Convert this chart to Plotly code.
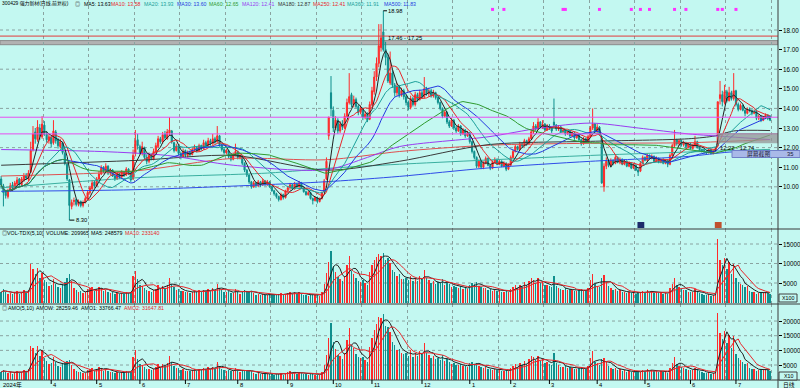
import plotly.graph_objects as go
import pandas as pd

# ---------------- data ----------------
opens = [
    10.40, 10.05, 9.75, 9.50, 9.85, 10.10, 9.90, 10.15, 10.40, 10.10, 10.35, 10.60, 10.40,
    10.75, 11.90, 12.80, 12.40, 13.00, 12.55, 13.15,
    12.70, 12.35, 12.50, 12.25, 12.80, 12.40, 12.05,
    12.25, 11.70, 11.15, 10.35, 9.00,
    9.25, 9.35, 9.10, 9.25, 9.05, 9.20,
    9.40, 9.70, 9.90, 10.25, 10.05, 10.40,
    10.65, 11.00, 10.80, 11.05, 10.70,
    10.85, 10.55, 10.40, 10.65, 10.50, 10.75, 10.60, 10.90, 10.70,
    10.40, 11.70, 12.40,
    12.05, 11.70, 12.00, 11.50, 11.30, 11.65,
    11.40, 11.80, 12.05, 12.45, 12.30, 12.70, 12.45, 12.75,
    12.85, 12.25, 11.85, 12.05, 11.70, 11.55, 11.85, 11.60,
    11.75, 11.65, 11.90, 12.00, 11.85, 12.10, 11.95,
    12.25, 12.10, 12.35, 12.20, 12.45, 12.30, 12.60,
    12.15, 11.90, 11.75, 11.85, 11.55, 11.40, 11.65, 11.80, 11.50,
    11.55, 11.20, 10.85, 10.60, 10.25, 10.00,
    10.20, 10.05, 10.25, 10.10, 10.30, 10.15,
    10.25, 10.00, 9.80, 9.65, 9.50, 9.35, 9.60,
    9.45, 9.80, 9.95, 10.10, 9.90, 10.15, 10.00,
    10.20, 9.95, 9.75, 9.60, 9.70, 9.40, 9.30, 9.45, 9.25,
    9.40, 9.75, 10.40,
    12.60, 14.80, 13.90, 13.00, 13.40, 12.85, 13.20, 13.00,
    13.60, 14.30, 14.70, 14.20,
    14.45, 14.10, 13.80, 14.00, 13.55, 13.70,
    13.45, 14.20, 14.85, 15.60, 16.30, 17.10,
    17.90, 17.00, 16.60,
    15.30, 15.80, 15.20, 14.80, 15.10, 14.70, 14.90,
    14.60, 14.30, 14.05, 14.50, 14.20, 14.70,
    14.45, 14.80, 14.60, 15.00, 14.75, 14.90, 14.65, 14.80,
    14.55, 14.30, 14.00, 13.60, 13.80, 13.30, 13.10,
    13.40, 13.00, 12.85, 13.10, 12.70, 12.90, 12.60,
    12.75, 12.30, 11.80, 11.50, 11.05, 11.30,
    11.00, 11.20, 11.45, 11.10, 10.95, 11.25, 11.40, 11.15, 11.30, 11.05, 11.20, 10.90,
    11.10, 11.50, 11.80, 12.05, 11.90, 12.20, 12.10, 12.35, 12.20,
    12.45, 12.80, 13.10, 12.95, 13.30, 13.05, 13.20, 12.90,
    13.10, 13.00, 13.30, 13.15, 12.95, 13.05, 12.80, 12.90, 12.70, 12.85, 12.60, 12.75, 12.50,
    12.65, 12.40, 12.20, 12.45, 12.30,
    12.55, 13.00, 13.20, 12.85, 13.05,
    12.50, 10.00, 11.05, 11.35,
    11.10, 11.35, 11.20, 11.50, 11.25, 11.40, 11.15, 11.30, 11.05, 11.20, 10.95, 11.10, 10.85,
    10.80, 11.20, 11.50, 11.35, 11.60, 11.45, 11.55, 11.30, 11.45, 11.25, 11.40, 11.20, 11.35,
    11.15, 11.60, 12.10, 12.40, 12.20, 12.35, 12.15,
    12.25, 12.05, 12.20, 11.95, 12.10, 12.30, 12.00, 11.90,
    11.85, 11.80, 11.75, 11.90, 11.70, 11.85,
    12.10, 14.50, 14.70, 14.30,
    14.85, 14.40, 14.80, 14.50, 14.90, 14.20, 13.95, 14.15, 13.90, 13.75,
    13.95, 13.90, 13.75, 13.85, 13.50, 13.60, 13.40, 13.55, 13.65, 13.60,
]
highs = [
    10.55, 10.15, 9.85, 9.90, 10.20, 10.25, 10.30, 10.50, 10.45, 10.50, 10.70, 10.70, 10.85,
    12.30, 13.10, 13.00, 13.40, 13.20, 13.60, 13.35,
    12.85, 12.70, 12.60, 13.40, 12.90, 12.50, 12.45,
    12.30, 11.80, 11.20, 10.40, 9.35,
    9.45, 9.40, 9.35, 9.30, 9.30, 9.50,
    9.80, 10.05, 10.35, 10.30, 10.50, 10.80,
    11.10, 11.05, 11.20, 11.10, 10.95,
    10.90, 10.65, 10.75, 10.70, 10.85, 10.80, 11.00, 10.95, 10.75,
    11.90, 12.90, 12.70,
    12.15, 12.30, 12.05, 11.65, 11.75, 11.70,
    11.95, 12.25, 12.60, 12.55, 12.80, 12.85, 12.95, 13.55,
    12.90, 12.30, 12.20, 12.10, 11.80, 11.95, 11.90, 11.85,
    11.85, 12.00, 12.15, 12.05, 12.20, 12.15, 12.40,
    12.35, 12.50, 12.45, 12.70, 12.55, 13.10, 12.65,
    12.20, 12.00, 11.95, 11.90, 11.65, 11.75, 12.20, 11.85, 11.70,
    11.60, 11.25, 10.90, 10.65, 10.30, 10.30,
    10.25, 10.35, 10.30, 10.40, 10.35, 10.35,
    10.30, 10.05, 9.85, 9.70, 9.55, 9.70, 9.65,
    9.85, 10.05, 10.20, 10.15, 10.25, 10.20, 10.30,
    10.25, 10.00, 9.80, 9.80, 9.75, 9.45, 9.50, 9.50, 9.45,
    9.75, 10.40, 11.50,
    13.56, 15.65, 14.10, 13.60, 13.50, 13.35, 13.40, 13.75,
    14.50, 15.80, 14.80, 14.65,
    14.55, 14.20, 14.15, 14.05, 13.85, 13.80,
    14.35, 15.10, 15.90, 16.60, 18.30, 18.30,
    18.98, 17.40, 16.80,
    16.90, 15.95, 15.30, 15.30, 15.20, 15.05, 15.00,
    14.70, 14.40, 14.65, 14.60, 14.85, 14.80,
    14.95, 14.90, 15.60, 15.10, 15.05, 15.00, 14.95, 14.85,
    14.60, 14.35, 14.05, 13.90, 13.85, 13.40, 13.50,
    13.45, 13.10, 13.20, 13.15, 13.00, 12.95, 12.85,
    12.80, 12.35, 11.85, 11.55, 11.40, 11.35,
    11.30, 11.55, 11.50, 11.15, 11.35, 11.50, 11.45, 11.40, 11.35, 11.30, 11.25, 11.20,
    11.60, 11.90, 12.15, 12.10, 12.30, 12.25, 12.45, 12.40, 12.55,
    12.95, 13.30, 13.20, 13.50, 13.35, 13.40, 13.25, 13.20,
    13.20, 13.10, 14.50, 13.20, 13.15, 13.10, 12.95, 12.95, 12.90, 12.90, 12.80, 12.80, 12.70,
    12.70, 12.45, 12.55, 12.50, 12.65,
    13.10, 14.00, 13.25, 13.20, 13.10,
    12.60, 11.20, 11.50, 11.40,
    11.45, 11.40, 11.60, 11.55, 11.50, 11.45, 11.40, 11.35, 11.30, 11.25, 11.20, 11.15, 10.95,
    11.30, 11.60, 11.55, 11.70, 11.65, 11.65, 11.60, 11.55, 11.50, 11.45, 11.45, 11.40, 11.40,
    11.70, 12.20, 12.90, 12.45, 12.45, 12.40, 12.35,
    12.30, 12.25, 12.25, 12.15, 12.60, 12.35, 12.05, 11.95,
    11.90, 11.85, 11.95, 11.95, 11.90, 12.00,
    14.34, 15.40, 14.90, 15.20,
    14.95, 15.10, 14.90, 15.80, 14.95, 14.30, 14.25, 14.20, 13.95, 14.05,
    14.05, 13.95, 13.95, 13.90, 13.70, 13.65, 13.60, 13.75, 13.70, 13.65,
]
lows = [
    9.90, 9.00, 9.40, 9.40, 9.75, 9.85, 9.85, 10.05, 10.05, 10.00, 10.25, 10.35, 10.30,
    10.70, 11.80, 12.20, 12.30, 12.40, 12.45, 12.60,
    12.25, 12.20, 12.00, 12.15, 12.20, 11.95, 11.95,
    11.65, 11.10, 10.30, 8.30, 8.85,
    9.05, 9.00, 9.00, 8.95, 8.95, 9.15,
    9.35, 9.60, 9.85, 9.95, 10.00, 10.35,
    10.60, 10.70, 10.75, 10.60, 10.60,
    10.50, 10.30, 10.35, 10.40, 10.45, 10.50, 10.55, 10.60, 10.25,
    10.35, 11.55, 11.90,
    11.65, 11.60, 11.40, 11.15, 11.20, 11.35,
    11.35, 11.70, 12.00, 12.20, 12.20, 12.40, 12.40, 12.60,
    12.20, 11.75, 11.80, 11.60, 11.40, 11.50, 11.50, 11.50,
    11.55, 11.60, 11.80, 11.75, 11.80, 11.85, 11.90,
    12.00, 12.05, 12.10, 12.15, 12.20, 12.25, 12.05,
    11.80, 11.65, 11.65, 11.45, 11.30, 11.35, 11.55, 11.40, 11.40,
    11.10, 10.75, 10.50, 10.15, 9.90, 9.95,
    9.95, 10.00, 10.00, 10.05, 10.05, 10.05,
    9.95, 9.75, 9.55, 9.40, 9.25, 9.30, 9.35,
    9.40, 9.70, 9.85, 9.85, 9.85, 9.95, 9.95,
    9.90, 9.70, 9.55, 9.55, 9.35, 9.10, 9.25, 9.15, 9.20,
    9.35, 9.70, 10.35,
    12.40, 13.60, 12.80, 12.90, 12.70, 12.75, 12.90, 12.95,
    13.55, 14.20, 14.05, 14.05,
    14.00, 13.65, 13.70, 13.40, 13.45, 13.30,
    13.40, 14.10, 14.70, 15.40, 16.10, 16.90,
    16.90, 16.20, 15.30,
    15.20, 15.05, 14.60, 14.65, 14.55, 14.60, 14.45,
    14.15, 13.90, 13.95, 14.10, 14.10, 14.35,
    14.40, 14.50, 14.50, 14.65, 14.60, 14.55, 14.55, 14.45,
    14.20, 13.90, 13.50, 13.55, 13.20, 13.00, 13.05,
    12.90, 12.75, 12.80, 12.60, 12.65, 12.50, 12.55,
    12.20, 11.70, 11.40, 10.95, 10.95, 10.90,
    10.90, 11.15, 11.05, 10.85, 10.90, 11.20, 11.10, 11.10, 11.00, 11.00, 10.80, 10.85,
    11.05, 11.45, 11.75, 11.85, 11.85, 12.00, 12.05, 12.10, 12.15,
    12.40, 12.70, 12.85, 12.90, 13.00, 12.95, 12.85, 12.85,
    12.90, 12.75, 13.05, 12.85, 12.85, 12.75, 12.75, 12.60, 12.65, 12.55, 12.55, 12.40, 12.45,
    12.30, 12.10, 12.15, 12.20, 12.25,
    12.50, 12.90, 12.75, 12.75, 12.60,
    10.15, 9.75, 10.90, 11.00,
    11.05, 11.10, 11.15, 11.20, 11.15, 11.10, 11.10, 11.00, 11.00, 10.90, 10.90, 10.80, 10.55,
    10.75, 11.15, 11.30, 11.30, 11.40, 11.40, 11.25, 11.25, 11.20, 11.20, 11.15, 11.15, 11.00,
    11.10, 11.55, 12.00, 12.10, 12.10, 12.05, 12.05,
    11.95, 11.95, 11.90, 11.90, 12.00, 11.95, 11.80, 11.75,
    11.70, 11.65, 11.70, 11.65, 11.65, 11.80,
    12.00, 14.20, 14.10, 14.20,
    14.30, 14.35, 14.40, 14.40, 14.10, 13.85, 13.90, 13.85, 13.60, 13.70,
    13.80, 13.65, 13.70, 13.40, 13.40, 13.30, 13.35, 13.45, 13.40, 13.35,
]
closes = [
    10.10, 9.70, 9.55, 9.80, 10.05, 9.95, 10.20, 10.35, 10.15, 10.40, 10.55, 10.45, 10.70,
    11.85, 12.70, 12.45, 13.05, 12.60, 13.20, 12.75,
    12.40, 12.55, 12.20, 12.85, 12.35, 12.10, 12.30,
    11.75, 11.20, 10.40, 9.05, 9.20,
    9.30, 9.10, 9.25, 9.05, 9.20, 9.40,
    9.70, 9.95, 10.20, 10.05, 10.40, 10.65,
    10.95, 10.80, 11.05, 10.70, 10.85,
    10.55, 10.40, 10.65, 10.50, 10.75, 10.60, 10.90, 10.70, 10.35,
    11.60, 12.35, 12.10,
    11.75, 12.05, 11.50, 11.30, 11.60, 11.45,
    11.80, 12.10, 12.45, 12.30, 12.65, 12.50, 12.80, 12.90,
    12.30, 11.85, 12.05, 11.70, 11.55, 11.80, 11.60, 11.75,
    11.65, 11.90, 12.00, 11.85, 12.10, 11.95, 12.25,
    12.10, 12.35, 12.20, 12.45, 12.30, 12.60, 12.15,
    11.90, 11.75, 11.85, 11.55, 11.40, 11.65, 11.80, 11.50, 11.60,
    11.20, 10.85, 10.60, 10.25, 10.00, 10.20,
    10.05, 10.25, 10.10, 10.30, 10.15, 10.25,
    10.00, 9.80, 9.65, 9.50, 9.35, 9.60, 9.45,
    9.80, 9.95, 10.10, 9.90, 10.15, 10.00, 10.20,
    9.95, 9.75, 9.60, 9.70, 9.40, 9.30, 9.45, 9.25, 9.40,
    9.70, 10.30, 11.30,
    13.56, 14.00, 13.00, 13.40, 12.85, 13.20, 13.05, 13.60,
    14.30, 14.60, 14.20, 14.45,
    14.10, 13.80, 14.00, 13.55, 13.70, 13.40,
    14.20, 14.90, 15.60, 16.30, 17.20, 17.60,
    17.00, 16.60, 15.40,
    15.80, 15.20, 14.80, 15.10, 14.70, 14.90, 14.60,
    14.30, 14.05, 14.50, 14.20, 14.70, 14.45,
    14.80, 14.60, 15.00, 14.75, 14.90, 14.65, 14.80, 14.55,
    14.30, 14.00, 13.60, 13.80, 13.30, 13.10, 13.40,
    13.00, 12.85, 13.10, 12.70, 12.90, 12.60, 12.75,
    12.30, 11.80, 11.50, 11.05, 11.30, 11.00,
    11.20, 11.45, 11.10, 10.95, 11.25, 11.40, 11.15, 11.30, 11.05, 11.20, 10.90, 11.10,
    11.50, 11.80, 12.05, 11.90, 12.20, 12.10, 12.35, 12.20, 12.45,
    12.80, 13.10, 12.95, 13.30, 13.05, 13.20, 12.90, 13.10,
    13.00, 12.85, 13.15, 12.95, 13.05, 12.80, 12.90, 12.70, 12.85, 12.60, 12.75, 12.50, 12.65,
    12.40, 12.20, 12.45, 12.30, 12.55,
    13.00, 13.20, 12.85, 13.05, 12.70,
    10.20, 11.05, 11.30, 11.10,
    11.35, 11.20, 11.50, 11.25, 11.40, 11.15, 11.30, 11.05, 11.20, 10.95, 11.10, 10.85, 10.75,
    11.20, 11.50, 11.35, 11.60, 11.45, 11.55, 11.30, 11.45, 11.25, 11.40, 11.20, 11.35, 11.15,
    11.60, 12.10, 12.40, 12.20, 12.35, 12.15, 12.25,
    12.05, 12.20, 11.95, 12.10, 12.30, 12.00, 11.90, 11.85,
    11.80, 11.75, 11.90, 11.70, 11.85, 11.95,
    14.34, 14.70, 14.35, 14.85,
    14.40, 14.80, 14.50, 14.90, 14.20, 13.95, 14.15, 13.90, 13.75, 13.95,
    13.90, 13.75, 13.85, 13.50, 13.60, 13.40, 13.55, 13.65, 13.50, 13.40,
]
# volume in units of 100 (axis "X100")
volumes = [
    2600, 3400, 2800, 2300, 2500, 2100, 2700, 2900, 2200, 2600, 3100, 2400, 3300,
    9800, 8600, 7200, 8900, 6400, 7600, 5800,
    5200, 4300, 4600, 6100, 4800, 3900, 3600,
    4700, 5300, 6200, 7400, 5600,
    3800, 3100, 2700, 2900, 2400, 2600,
    3400, 3600, 3900, 3000, 3500, 4100,
    3800, 2900, 3300, 2700, 2500,
    2600, 2300, 2400, 2100, 2500, 2200, 2800, 2400, 2600,
    6800, 8200, 5900,
    4600, 4200, 3700, 3300, 3000, 2800,
    3200, 3500, 4400, 3600, 4200, 3800, 4500, 6300,
    4800, 3900, 3300, 3500, 2900, 3000, 2700, 2600,
    2500, 2800, 3000, 2600, 3100, 2700, 3300,
    3000, 3400, 2900, 3600, 3100, 4800, 3800,
    3200, 2800, 2600, 2900, 2500, 2400, 3500, 2600, 2300,
    2900, 3100, 2700, 2800, 3000, 2400,
    2000, 2200, 1800, 2100, 1900, 2000,
    2100, 1900, 1800, 2000, 2200, 2400, 1800,
    2300, 2500, 2800, 2200, 2600, 2100, 2700,
    2300, 2000, 1900, 1700, 2100, 2300, 1800, 1900, 1700,
    2600, 4800, 7600,
    10500, 13200, 9400, 7800, 6600, 6100, 5500, 6800,
    9600, 11800, 8200, 7400,
    6300, 5600, 5200, 5800, 4900, 4600,
    7800, 9600, 10800, 11600, 12400, 12000,
    12600, 10900, 11300,
    10200, 8400, 7900, 6800, 7200, 6100, 5900,
    6400, 5800, 6900, 5400, 6300, 5600,
    6700, 5900, 8400, 6200, 5700, 5100, 5400, 4800,
    5200, 4900, 6100, 4600, 5300, 4700, 4100,
    4300, 3900, 3700, 4200, 3500, 3800, 3400,
    4600, 5100, 4800, 5300, 4200, 3900,
    3600, 3800, 3200, 3400, 3000, 3300, 2900, 3100, 2800, 2700, 3000, 2600,
    3400, 3900, 4400, 3700, 4600, 4100, 5200, 4500, 5600,
    6400, 5800, 5100, 6200, 4900, 5300, 4400, 4600,
    4200, 3900, 6800, 4300, 3800, 3500, 3300, 3600, 3200, 3400, 3100, 3000, 2900,
    3200, 3400, 2900, 3100, 3600,
    5800, 7200, 4700, 4300, 3900,
    6400, 7100, 5200, 4300,
    3600, 3200, 3500, 2900, 3100, 2700, 2800, 2500, 2600, 2400, 2500, 2300, 2800,
    2400, 2900, 2600, 3100, 2700, 2900, 2500, 2700, 2400, 2600, 2300, 2500, 2200,
    3600, 4800, 6200, 4400, 3900, 3500, 3300,
    3100, 2800, 2700, 2600, 3400, 2900, 2400, 2200,
    2000, 1800, 2100, 1700, 1900, 2300,
    16200, 10800, 9700, 11300,
    8600, 10400, 7400, 9900, 6200, 5300, 4800, 4400, 3900, 4200,
    2900, 2600, 2700, 2300, 2500, 2700, 2500, 2800, 2400, 2100,
]
# turnover in axis units (axis "X10")
amounts = [
    2630, 3300, 2670, 2250, 2510, 2090, 2750, 3000, 2230, 2700, 3270, 2510, 3530,
    11610, 10920, 8960, 11610, 8060, 10030, 7400,
    6450, 5400, 5610, 7840, 5930, 4720, 4430,
    5520, 5940, 6450, 6700, 5150,
    3530, 2820, 2500, 2630, 2210, 2440,
    3300, 3580, 3980, 3020, 3640, 4370,
    4160, 3130, 3650, 2890, 2710,
    2740, 2390, 2560, 2210, 2690, 2330, 3050, 2570, 2690,
    7890, 10130, 7140,
    5410, 5060, 4260, 3730, 3480, 3210,
    3780, 4240, 5480, 4430, 5310, 4750, 5760, 8130,
    5900, 4620, 3980, 4100, 3350, 3540, 3130, 3060,
    2910, 3330, 3600, 3080, 3750, 3230, 4040,
    3630, 4200, 3540, 4480, 3810, 6050, 4620,
    3810, 3290, 3080, 3350, 2850, 2800, 4130, 2990, 2670,
    3250, 3360, 2860, 2870, 3000, 2450,
    2010, 2260, 1820, 2160, 1930, 2050,
    2100, 1860, 1740, 1900, 2060, 2300, 1700,
    2250, 2490, 2830, 2180, 2640, 2100, 2750,
    2290, 1950, 1820, 1650, 1970, 2140, 1700, 1760, 1600,
    2520, 4940, 8590,
    14240, 19250, 12690, 10450, 8480, 8050, 7180, 9250,
    13540, 17460, 11810, 10660,
    8880, 7730, 7280, 7890, 6710, 6160,
    11080, 14300, 16850, 18910, 21330, 21000,
    22430, 18310, 18080,
    16120, 12770, 11690, 10270, 10580, 9090, 8610,
    9150, 8150, 10010, 7670, 9260, 8090,
    9920, 8610, 12600, 9150, 8490, 7470, 7990, 6980,
    7440, 6860, 8300, 6350, 7050, 6160, 5490,
    5590, 5010, 4850, 5330, 4520, 4790, 4340,
    5660, 6020, 5520, 5860, 4750, 4290,
    4030, 4350, 3550, 3720, 3380, 3760, 3230, 3500, 3090, 3020, 3270, 2890,
    3910, 4600, 5300, 4400, 5610, 4960, 6420, 5490, 6970,
    8190, 7600, 6600, 8250, 6390, 7000, 5680, 6030,
    5460, 5010, 9180, 5570, 4960, 4480, 4260, 4570, 4110, 4280, 3940, 3750, 3670,
    3970, 4150, 3610, 3810, 4520,
    7540, 9720, 6040, 5610, 4950,
    7010, 7360, 5880, 4770,
    4090, 3590, 4030, 3260, 3530, 3010, 3160, 2760, 2910, 2630, 2780, 2500, 3010,
    2690, 3320, 2950, 3580, 3090, 3350, 2830, 3090, 2700, 2960, 2580, 2840, 2450,
    4110, 5720, 7740, 5400, 4820, 4270, 4060,
    3760, 3390, 3250, 3140, 4150, 3500, 2880, 2620,
    2360, 2120, 2490, 1990, 2240, 2730,
    22600, 15930, 14020, 16660,
    12470, 15290, 10800, 14850, 8860, 7420, 6790, 6120, 5380, 5840,
    3970, 3570, 3740, 3110, 3400, 3650, 3390, 3820, 3250, 2826,
]

# long moving averages read at a few bars
ma120_bars = [0, 44, 73, 102, 143, 161, 175, 214, 237, 259, 280, 302, 320, 338]
ma120_vals = [11.9, 11.8, 11.6, 11.1, 10.87, 11.5, 12.05, 12.55, 13.0, 13.25, 13.0, 12.7, 12.55, 12.41]
ma180_bars = [0, 60, 102, 143, 175, 214, 259, 302, 314, 322, 338]
ma180_vals = [11.1, 11.35, 11.6, 10.85, 11.3, 12.15, 12.32, 12.45, 12.6, 12.85, 12.87]
ma250_bars = [0, 58, 102, 143, 175, 214, 259, 302, 338]
ma250_vals = [10.55, 10.8, 11.45, 11.38, 11.8, 12.12, 12.22, 12.25, 12.41]
ma360_bars = [0, 58, 117, 146, 175, 259, 338]
ma360_vals = [9.95, 10.45, 10.7, 10.96, 11.15, 11.6, 11.91]
ma500_bars = [0, 58, 117, 146, 175, 214, 259, 302, 320, 338]
ma500_vals = [9.77, 9.85, 10.11, 10.28, 10.53, 10.96, 11.30, 11.55, 11.77, 11.83]

month_bars = [0, 22, 42, 61, 81, 104, 126, 146, 163, 185, 206, 224, 241, 262, 283, 303, 323]
month_labels = ["2024年", "4", "5", "6", "7", "8", "9", "10", "11", "12", "1", "2", "3", "4", "5", "6", "7"]

signal_bars = [216, 221, 247, 248, 263, 277, 281, 285, 296, 301, 315, 317, 323]

price_ticks = [10, 11, 12, 13, 14, 15, 16, 17, 18]
price_grid = [10, 12, 14, 16, 18]
vol_ticks = [5000, 10000, 15000]
amo_ticks = [5000, 10000, 15000, 20000]

resistance_line = 17.69
band_hi, band_lo = 17.46, 17.25
magenta_levels = [13.55, 12.70]
box_hi, box_lo, box_start = 12.74, 12.22, 315
high_mark = (168, 18.98)
low_mark = (30, 8.30)

header_items = [
    (1, "300429 强力新材(日线,前复权)", "#000000"),
    (74, "◎", "#333333"),
    (83, "MA5: 13.63", "#000000"),
    (110, "MA10: 13.58", "#e8262a"),
    (143, "MA20: 13.93", "#1c9f9a"),
    (176, "MA30: 13.60", "#2338e0"),
    (208, "MA60: 12.65", "#2f9a2f"),
    (241, "MA120: 12.41", "#9a3cf0"),
    (277, "MA180: 12.87", "#333333"),
    (312, "MA250: 12.41", "#e8262a"),
    (346, "MA360: 11.91", "#1c9f9a"),
    (383, "MA500: 11.83", "#2338e0"),
]
vol_items = [
    (1, "◎", "#333333"), (6, "VOL-TDX(5,10)", "#000000"), (45, "VOLUME: 209965", "#000000"),
    (90, "MA5: 248579", "#000000"), (124, "MA10: 233140", "#e8262a"),
]
amo_items = [
    (1, "◎", "#333333"), (7, "AMO(5,10)", "#000000"), (35, "AMOW: 28259.46", "#000000"),
    (80, "AMO1: 33766.47", "#000000"), (123, "AMO2: 31647.81", "#e8262a"),
]

# ---------------- layout helpers ----------------
N = len(closes)
assert all(len(a) == N for a in (opens, highs, lows, volumes, amounts))
W, H = 800, 388
PLOT_R = 778
def px(x):
    return x / W
def py(y):
    return 1 - y / H

BG = "#c3f8f1"
UP = "#ff2a2a"
DN = "#0f8f8d"
GRID = "#8aa3a0"
FONT = "Liberation Sans, Arial, Noto Sans CJK SC, sans-serif"
XR = [-0.5, PLOT_R / 2.275 - 0.5]

s = pd.Series(closes)
ma_short = {
    5: ("#202020", s.rolling(5, min_periods=1).mean()),
    10: ("#e8262a", s.rolling(10, min_periods=1).mean()),
    20: ("#1c9f9a", s.rolling(20, min_periods=1).mean()),
    30: ("#2338e0", s.rolling(30, min_periods=1).mean()),
    60: ("#2f9a2f", s.rolling(60, min_periods=1).mean()),
}
xs = list(range(N))
vs = pd.Series(volumes)
am = pd.Series(amounts)
vol_colors = [UP if c >= o else DN for o, c in zip(opens, closes)]

fig = go.Figure()

for bars, vals, col in [
    (ma500_bars, ma500_vals, "#2f4ce8"),
    (ma360_bars, ma360_vals, "#3aafa0"),
    (ma250_bars, ma250_vals, "#e05050"),
    (ma180_bars, ma180_vals, "#3a3a3a"),
    (ma120_bars, ma120_vals, "#9a3cf0"),
]:
    fig.add_trace(go.Scatter(x=bars, y=vals, mode="lines", line=dict(color=col, width=1, shape="spline", smoothing=0.8),
                             xaxis="x", yaxis="y", hoverinfo="skip", showlegend=False))

fig.add_trace(go.Candlestick(
    x=xs, open=opens, high=highs, low=lows, close=closes,
    increasing=dict(line=dict(color=UP, width=1), fillcolor=UP),
    decreasing=dict(line=dict(color=DN, width=1), fillcolor=DN),
    whiskerwidth=0, xaxis="x", yaxis="y", showlegend=False, hoverinfo="skip"))

for n, (col, ser) in ma_short.items():
    fig.add_trace(go.Scatter(x=xs, y=ser, mode="lines", line=dict(color=col, width=1),
                             xaxis="x", yaxis="y", hoverinfo="skip", showlegend=False))

fig.add_trace(go.Scatter(x=signal_bars, y=[19.05] * len(signal_bars), mode="markers",
                         marker=dict(symbol="square", size=3, color="#ff30ff"),
                         xaxis="x", yaxis="y", hoverinfo="skip", showlegend=False))

fig.add_trace(go.Bar(x=xs, y=volumes, marker=dict(color=vol_colors, line=dict(width=0)), width=0.6,
                     xaxis="x2", yaxis="y2", hoverinfo="skip", showlegend=False))
fig.add_trace(go.Scatter(x=xs, y=vs.rolling(5, min_periods=1).mean(), mode="lines", line=dict(color="#202020", width=1),
                         xaxis="x2", yaxis="y2", hoverinfo="skip", showlegend=False))
fig.add_trace(go.Scatter(x=xs, y=vs.rolling(10, min_periods=1).mean(), mode="lines", line=dict(color="#e8262a", width=1),
                         xaxis="x2", yaxis="y2", hoverinfo="skip", showlegend=False))
fig.add_trace(go.Bar(x=xs, y=amounts, marker=dict(color=vol_colors, line=dict(width=0)), width=0.6,
                     xaxis="x3", yaxis="y3", hoverinfo="skip", showlegend=False))
fig.add_trace(go.Scatter(x=xs, y=am.rolling(5, min_periods=1).mean(), mode="lines", line=dict(color="#202020", width=1),
                         xaxis="x3", yaxis="y3", hoverinfo="skip", showlegend=False))
fig.add_trace(go.Scatter(x=xs, y=am.rolling(10, min_periods=1).mean(), mode="lines", line=dict(color="#e8262a", width=1),
                         xaxis="x3", yaxis="y3", hoverinfo="skip", showlegend=False))

MAIN_TOP, MAIN_BOT = 0, 229
VOL_TOP, VOL_BOT = 229, 304
AMO_TOP, AMO_BOT = 304, 380
main_range = [18 - (MAIN_BOT - 30) / 19.6, 18 + 30 / 19.6]
vol_range = [-(VOL_BOT - 302.5) / 3.9 * 1000, (302.5 - VOL_TOP) / 3.9 * 1000]
amo_range = [-(AMO_BOT - 379.7) / 2.933 * 1000, (379.7 - AMO_TOP) / 2.933 * 1000]

xcommon = dict(domain=[0, px(PLOT_R)], range=XR, showticklabels=False, showgrid=True, gridcolor=GRID,
               griddash="dot", gridwidth=1, tick0=18.4, dtick=20, zeroline=False, showline=False, ticks="")
ycommon = dict(side="right", showgrid=False, zeroline=False, showline=False, ticks="outside", ticklen=3,
               tickcolor="#000000", showticklabels=False)

fig.update_layout(
    width=W, height=H, margin=dict(l=0, r=0, t=0, b=0, pad=0),
    paper_bgcolor=BG, plot_bgcolor=BG, showlegend=False, bargap=0,
    xaxis=dict(anchor="y", rangeslider=dict(visible=False), **xcommon),
    xaxis2=dict(anchor="y2", matches="x", **xcommon),
    xaxis3=dict(anchor="y3", matches="x", **xcommon),
    yaxis=dict(anchor="x", domain=[py(MAIN_BOT), py(MAIN_TOP)], range=main_range, tickvals=price_ticks, **ycommon),
    yaxis2=dict(anchor="x2", domain=[py(VOL_BOT), py(VOL_TOP)], range=vol_range, tickvals=vol_ticks, **ycommon),
    yaxis3=dict(anchor="x3", domain=[py(AMO_BOT), py(AMO_TOP)], range=amo_range, tickvals=amo_ticks, **ycommon),
)

shapes = []
def hline(y, yref, color, dash="dot", width=1, layer="below", x0=XR[0], x1=XR[1], xref="x"):
    shapes.append(dict(type="line", xref=xref, yref=yref, x0=x0, x1=x1, y0=y, y1=y,
                       line=dict(color=color, width=width, dash=dash), layer=layer))

for v in price_grid:
    hline(v, "y", GRID)
for v in vol_ticks:
    hline(v, "y2", GRID, xref="x2")
for v in amo_ticks:
    hline(v, "y3", GRID, xref="x3")

shapes.append(dict(type="rect", xref="x", yref="y", x0=XR[0], x1=XR[1], y0=band_lo, y1=band_hi,
                   fillcolor="#b2b2b2", line=dict(color="#8c8c8c", width=1), layer="below"))
hline(resistance_line, "y", "#e23a3a", dash="solid", layer="above")
for lv in magenta_levels:
    hline(lv, "y", "#e84ef0", dash="solid", layer="above")
shapes.append(dict(type="rect", xref="x", yref="y", x0=box_start, x1=XR[1], y0=box_lo, y1=box_hi,
                   fillcolor="rgba(150,150,150,0.75)", line=dict(width=0), layer="above"))

shapes.append(dict(type="line", xref="x", yref="y", x0=high_mark[0], x1=high_mark[0] + 1.6,
                   y0=high_mark[1], y1=high_mark[1], line=dict(color="#000000", width=1)))
shapes.append(dict(type="line", xref="x", yref="y", x0=low_mark[0], x1=low_mark[0] + 2.2,
                   y0=low_mark[1], y1=low_mark[1], line=dict(color="#000000", width=1)))

for yy in (VOL_TOP, VOL_BOT, AMO_BOT):
    shapes.append(dict(type="line", xref="paper", yref="paper", x0=0, x1=1, y0=py(yy), y1=py(yy),
                       line=dict(color="#3a3a3a", width=1)))
shapes.append(dict(type="line", xref="paper", yref="paper", x0=px(PLOT_R), x1=px(PLOT_R), y0=0, y1=1,
                   line=dict(color="#3a3a3a", width=1)))

for (y0, y1) in ((294, 302), (372, 380)):
    shapes.append(dict(type="rect", xref="paper", yref="paper", x0=px(779), x1=px(797), y0=py(y1), y1=py(y0),
                       fillcolor=BG, line=dict(color="#404040", width=1)))
shapes.append(dict(type="rect", xref="paper", yref="paper", x0=px(732), x1=px(800), y0=py(157.5), y1=py(150.5),
                   fillcolor="#a9b9e8", line=dict(color="#6f80c8", width=1)))
for b, col in ((281, "#1d2b6b"), (315, "#c0502e")):
    shapes.append(dict(type="rect", xref="x", yref="paper", x0=b - 1.3, x1=b + 1.7, y0=py(228), y1=py(222),
                       fillcolor=col, line=dict(width=0)))
for b in month_bars[1:]:
    shapes.append(dict(type="line", xref="x", yref="paper", x0=b, x1=b, y0=py(384), y1=py(380),
                       line=dict(color="#000000", width=1)))
fig.update_layout(shapes=shapes)

ann = []
def text(xp, yp, t, color="#000000", size=5.3, anchor="left"):
    ann.append(dict(xref="paper", yref="paper", x=px(xp), y=py(yp), text=t, showarrow=False, borderpad=0,
                    xanchor=anchor, yanchor="middle", font=dict(size=size, color=color, family=FONT)))

for xp, t, c in header_items:
    text(xp, 4, t, c, size=5.2 if xp > 1 else 4.9)
for xp, t, c in vol_items:
    text(xp, 233, t, c)
for xp, t, c in amo_items:
    text(xp, 308, t, c)

for v in price_ticks:
    ann.append(dict(xref="paper", yref="y", x=px(781.5), y=v, text=f"{v:.2f}", showarrow=False, borderpad=0,
                    xanchor="left", yanchor="middle", font=dict(size=6.3, color="#000000", family=FONT)))
for v in vol_ticks:
    ann.append(dict(xref="paper", yref="y2", x=px(781.5), y=v, text=str(v), showarrow=False, borderpad=0,
                    xanchor="left", yanchor="middle", font=dict(size=6.3, color="#000000", family=FONT)))
for v in amo_ticks:
    ann.append(dict(xref="paper", yref="y3", x=px(781.5), y=v, text=str(v), showarrow=False, borderpad=0,
                    xanchor="left", yanchor="middle", font=dict(size=6.3, color="#000000", family=FONT)))

text(788, 298, "X100", size=5.3, anchor="center")
text(788, 376, "X10", size=5.3, anchor="center")
text(789, 384.5, "日线", size=5.8, anchor="center")
text(758, 154, "屏幕截图", "#1a1a3a", size=5.8, anchor="center")
text(790, 154, "35", "#1a1a3a", size=5.8, anchor="center")

ann.append(dict(xref="x", yref="y", x=high_mark[0] + 1.8, y=high_mark[1], text=f"{high_mark[1]:.2f}", showarrow=False,
                borderpad=0, xanchor="left", yanchor="middle", font=dict(size=5.8, color="#000000", family=FONT)))
ann.append(dict(xref="x", yref="y", x=low_mark[0] + 2.4, y=low_mark[1], text=f"{low_mark[1]:.2f}", showarrow=False,
                borderpad=0, xanchor="left", yanchor="middle", font=dict(size=5.8, color="#000000", family=FONT)))
ann.append(dict(xref="x", yref="y", x=169.5, y=17.58, text=f"{band_hi:.2f} - {band_lo:.2f}", showarrow=False,
                borderpad=0, xanchor="left", yanchor="middle", font=dict(size=5.8, color="#000000", family=FONT)))
ann.append(dict(xref="x", yref="y", x=315.5, y=12.0, text=f"{box_lo:.2f} - {box_hi:.2f}", showarrow=False,
                borderpad=0, xanchor="left", yanchor="middle", font=dict(size=5.8, color="#000000", family=FONT)))

for b, lab in zip(month_bars, month_labels):
    ann.append(dict(xref="x", yref="paper", x=b, y=py(384.5), text=lab, showarrow=False, xanchor="left",
                    borderpad=0, xshift=1, yanchor="middle", font=dict(size=5.8, color="#000000", family=FONT)))

fig.update_layout(annotations=ann)
fig.write_html("out.html", config={"displayModeBar": False, "staticPlot": True},
               post_script="document.body.style.margin='0px';document.body.style.overflow='hidden';")
